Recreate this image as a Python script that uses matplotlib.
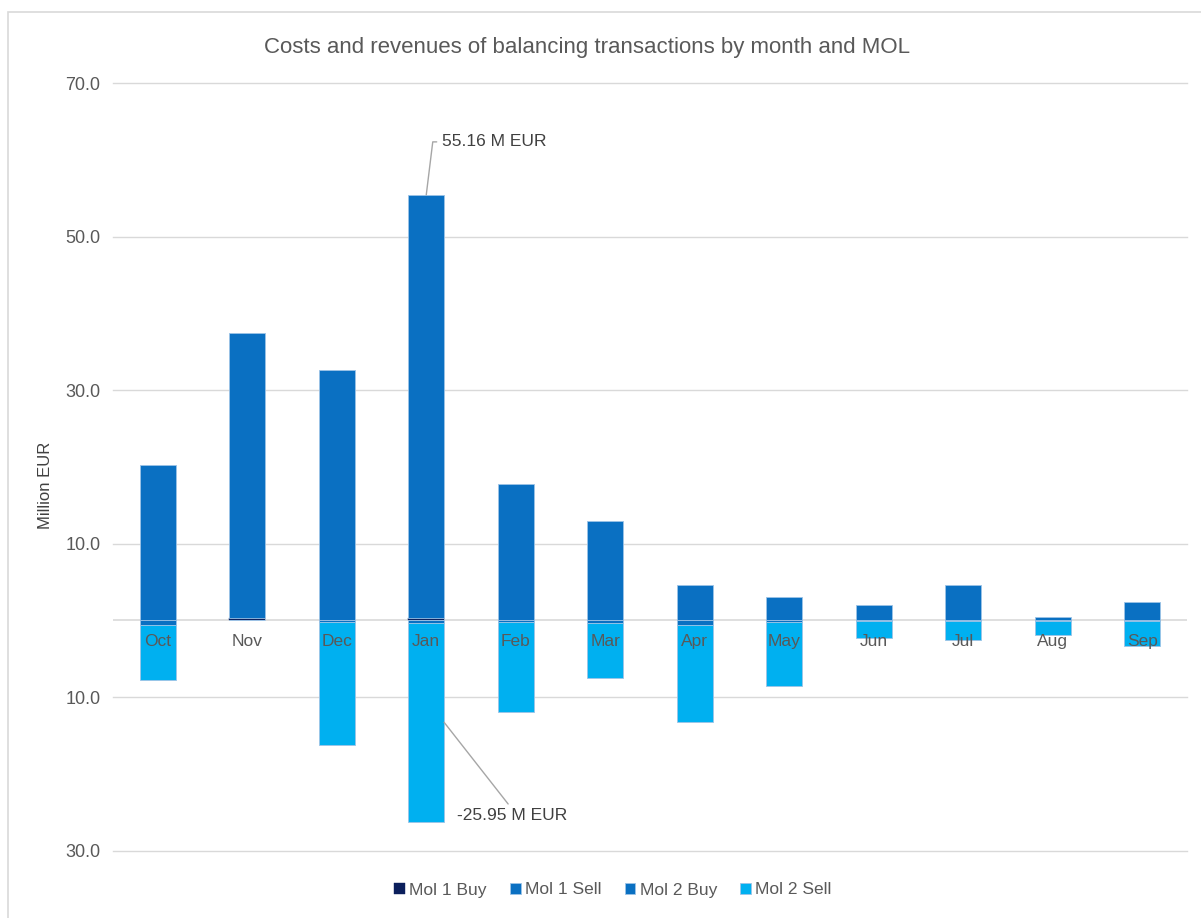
import matplotlib
matplotlib.use("Agg")
import matplotlib.pyplot as plt
import numpy as np
from matplotlib.ticker import FuncFormatter, FixedLocator
from matplotlib.patches import Rectangle

months = ["Oct", "Nov", "Dec", "Jan", "Feb", "Mar", "Apr", "May", "Jun", "Jul", "Aug", "Sep"]
mol1_buy = [0.1, 0.3, 0.1, 0.3, 0.1, 0.1, 0.1, 0.1, 0.0, 0.0, 0.0, 0.0]
mol2_buy = [20.1, 37.1, 32.5, 55.16, 17.7, 12.9, 4.5, 2.9, 2.0, 4.6, 0.4, 2.4]
mol1_sell = [-0.6, 0.0, -0.2, -0.3, -0.2, -0.3, -0.6, -0.2, -0.1, -0.1, -0.1, -0.1]
mol2_sell = [-7.2, 0.0, -16.0, -25.95, -11.7, -7.2, -12.6, -8.4, -2.2, -2.5, -1.8, -3.2]
y_ticks = [70, 50, 30, 10, -10, -30]
title = "Costs and revenues of balancing transactions by month and MOL"
y_label = "Million EUR"
series_names = ["Mol 1 Buy", "Mol 1 Sell", "Mol 2 Buy", "Mol 2 Sell"]

plt.rcParams['font.family'] = ['Liberation Sans', 'DejaVu Sans']

W, H = 1201, 918
fig = plt.figure(figsize=(W / 100, H / 100), dpi=100)
ax = fig.add_axes([113 / W, 1 - 850.7 / H, (1187 - 113) / W, (850.7 - 83.3) / H])

c_m1b = "#0B1F5C"
c_m1s = "#0A70C2"
c_m2b = "#0A70C2"
c_m2s = "#00B0F0"
edge = "#9DC3E6"

x = np.arange(len(months))
w = 0.4
m1b = np.array(mol1_buy)
m2b = np.array(mol2_buy)
m1s = np.array(mol1_sell)
m2s = np.array(mol2_sell)

b1 = ax.bar(x, m1b, w, color=c_m1b, edgecolor=c_m1b, linewidth=0.3, zorder=3, label=series_names[0])
b2 = ax.bar(x, m1s, w, color=c_m1s, edgecolor=edge, linewidth=0.6, zorder=3, label=series_names[1])
b3 = ax.bar(x, m2b, w, bottom=m1b, color=c_m2b, edgecolor=edge, linewidth=0.6, zorder=3, label=series_names[2])
b4 = ax.bar(x, m2s, w, bottom=m1s, color=c_m2s, edgecolor=edge, linewidth=0.6, zorder=3, label=series_names[3])

ax.set_xlim(-0.5, len(months) - 0.5)
ax.set_ylim(y_ticks[-1], y_ticks[0])
ax.yaxis.set_major_locator(FixedLocator(y_ticks))
ax.yaxis.set_major_formatter(FuncFormatter(lambda v, p: f"{abs(v):.1f}"))
ax.grid(axis='y', color="#D9D9D9", linewidth=1.0, zorder=0)
for gl in ax.get_ygridlines():
    gl.set_clip_on(False)
ax.axhline(0, color="#D9D9D9", linewidth=1.2, zorder=1)
for s in ax.spines.values():
    s.set_visible(False)
ax.tick_params(axis='y', length=0, pad=9, labelsize=13, labelcolor="#595959")
ax.tick_params(axis='x', length=0, labelbottom=False)

for i, m in enumerate(months):
    ax.annotate(m, xy=(i, 0), xytext=(0, -21), textcoords='offset pixels',
                ha='center', va='center', fontsize=12.5, color="#595959", zorder=5)

# annotations for January
j = months.index("Jan")
top = m1b[j] + m2b[j]
ax.annotate(f"{mol2_buy[j]:.2f} M EUR", xy=(j, top), xytext=(16, 53), textcoords='offset pixels',
            ha='left', va='center', fontsize=12.5, color="#404040",
            arrowprops=dict(arrowstyle='-', color="#A6A6A6", lw=1.0, shrinkA=2, shrinkB=0,
                            relpos=(0, 0.5), connectionstyle="angle,angleA=0,angleB=83,rad=0"))
mid = m1s[j] + m2s[j] / 2
ax.annotate(f"{mol2_sell[j]:.2f} M EUR", xy=(j + w / 2, mid), xytext=(13, -93), textcoords='offset pixels',
            ha='left', va='center', fontsize=12.5, color="#404040",
            arrowprops=dict(arrowstyle='-', color="#A6A6A6", lw=1.0, shrinkA=1, shrinkB=0,
                            relpos=(0.49, 1.0)))

fig.text(587 / W, 1 - 48 / H, title, ha='center', va='center', fontsize=16, color="#595959")
fig.text(45 / W, 1 - 485 / H, y_label, ha='center', va='center', rotation=90, fontsize=12, color="#404040")

fig.legend(handles=[b1, b2, b3, b4], loc='center', bbox_to_anchor=(613 / W, 1 - 890 / H), ncol=4,
           frameon=False, handlelength=0.6, handleheight=0.6, handletextpad=0.25, columnspacing=1.35,
           fontsize=12.5, labelcolor="#595959")

fig.patches.append(Rectangle((8 / W, -0.05), 1.2, 1 - 12 / H + 0.05, transform=fig.transFigure,
                             fill=False, edgecolor="#D9D9D9", linewidth=1.2))

fig.savefig("out.png", dpi=100)
